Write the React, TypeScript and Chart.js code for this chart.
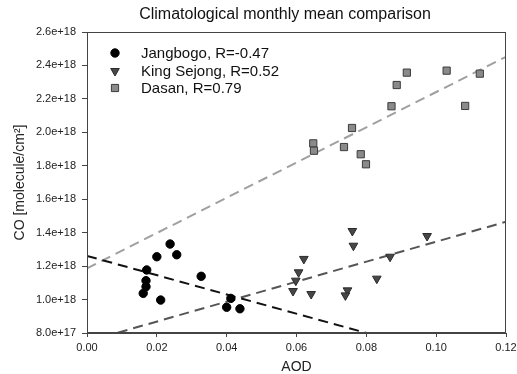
import React, { useEffect, useRef } from 'react';
import { Chart, registerables } from 'chart.js';

Chart.register(...registerables);

const FONT = '"Liberation Sans", Arial, Helvetica, sans-serif';

const titleText = 'Climatological monthly mean comparison';
const xTitle = 'AOD';
const yTitle = 'CO [molecule/cm\u00B2]';

const seriesNames = ['Jangbogo, R=-0.47', 'King Sejong, R=0.52', 'Dasan, R=0.79'];

const jangbogoAOD = [0.0161, 0.0169, 0.0169, 0.0171, 0.0200, 0.0238, 0.0257, 0.0211, 0.0327, 0.0412, 0.0400, 0.0438];
const jangbogoCO = [1.037e18, 1.077e18, 1.113e18, 1.177e18, 1.256e18, 1.332e18, 1.268e18, 0.997e18, 1.139e18, 1.007e18, 0.954e18, 0.945e18];

const kingSejongAOD = [0.0760, 0.0763, 0.0974, 0.0621, 0.0606, 0.0598, 0.0590, 0.0642, 0.0746, 0.0740, 0.0830, 0.0868];
const kingSejongCO = [1.410e18, 1.322e18, 1.380e18, 1.243e18, 1.163e18, 1.113e18, 1.051e18, 1.033e18, 1.055e18, 1.025e18, 1.125e18, 1.256e18];

const dasanAOD = [0.0916, 0.1030, 0.1125, 0.0887, 0.0872, 0.1083, 0.0759, 0.0648, 0.0650, 0.0736, 0.0784, 0.0799];
const dasanCO = [2.357e18, 2.369e18, 2.351e18, 2.283e18, 2.156e18, 2.158e18, 2.026e18, 1.934e18, 1.890e18, 1.912e18, 1.869e18, 1.809e18];

// linear fit lines: CO = intercept + slope * AOD
const fitSlope = [-5.76e18, 5.97e18, 10.54e18];
const fitIntercept = [1.261e18, 0.749e18, 1.187e18];
const fitRange = [0, 0.12];

const xTicks = [0, 0.02, 0.04, 0.06, 0.08, 0.1, 0.12];
const yTicks = [8e17, 1.0e18, 1.2e18, 1.4e18, 1.6e18, 1.8e18, 2.0e18, 2.2e18, 2.4e18, 2.6e18];

const markerFill = ['#000000', '#474747', '#8a8a8a'];
const markerBorder = ['#000000', '#2a2a2a', '#3c3c3c'];
const fitColor = ['#111111', '#555555', '#a0a0a0'];

const toPoints = (xs: number[], ys: number[]) => xs.map((x, i) => ({ x, y: ys[i] }));

const fitPoints = (i: number) =>
  fitRange.map((x) => ({ x, y: fitIntercept[i] + fitSlope[i] * x }));

const framePlugin = {
  id: 'frameAndLegend',
  afterDraw(chart: any) {
    const { ctx, chartArea } = chart;
    const { left, top, right, bottom } = chartArea;
    ctx.save();
    ctx.strokeStyle = '#444444';
    ctx.lineWidth = 1;
    ctx.strokeRect(Math.round(left) + 0.5, Math.round(top) + 0.5, Math.round(right - left) - 1, Math.round(bottom - top) - 1);

    // title
    ctx.fillStyle = '#111111';
    ctx.font = `16px ${FONT}`;
    ctx.textAlign = 'center';
    ctx.textBaseline = 'middle';
    ctx.fillText(titleText, 285, 15);

    // legend
    const sx = left + 28;
    const tx = left + 54;
    const rows = [top + 21, top + 39, top + 56];
    ctx.font = `15px ${FONT}`;
    ctx.textAlign = 'left';
    ctx.textBaseline = 'middle';
    seriesNames.forEach((name, i) => {
      const y = rows[i];
      ctx.fillStyle = markerFill[i];
      ctx.strokeStyle = markerBorder[i];
      ctx.lineWidth = 1;
      ctx.beginPath();
      if (i === 0) {
        ctx.arc(sx, y, 4.2, 0, Math.PI * 2);
      } else if (i === 1) {
        ctx.moveTo(sx - 4.3, y - 2.5);
        ctx.lineTo(sx + 4.3, y - 2.5);
        ctx.lineTo(sx, y + 5);
        ctx.closePath();
      } else {
        ctx.rect(sx - 3.6, y - 3.6, 7.2, 7.2);
      }
      ctx.fill();
      ctx.stroke();
      ctx.fillStyle = '#111111';
      ctx.fillText(name, tx, y + 1);
    });
    ctx.restore();
  },
};

export default function App() {
  const canvasRef = useRef<HTMLCanvasElement | null>(null);

  useEffect(() => {
    if (!canvasRef.current) return;
    const scatterStyles = [
      { pointStyle: 'circle', pointRadius: 4.2, pointRotation: 0 },
      { pointStyle: 'triangle', pointRadius: 5, pointRotation: 180 },
      { pointStyle: 'rect', pointRadius: 5.1, pointRotation: 0 },
    ];
    const series = [
      toPoints(jangbogoAOD, jangbogoCO),
      toPoints(kingSejongAOD, kingSejongCO),
      toPoints(dasanAOD, dasanCO),
    ];
    const datasets: any[] = [];
    series.forEach((data, i) => {
      datasets.push({
        label: seriesNames[i],
        data,
        showLine: false,
        backgroundColor: markerFill[i],
        borderColor: markerBorder[i],
        borderWidth: 1,
        ...scatterStyles[i],
        order: 1,
        clip: 6,
      });
    });
    [0, 1, 2].forEach((i) => {
      datasets.push({
        label: seriesNames[i] + ' fit',
        data: fitPoints(i),
        showLine: true,
        pointRadius: 0,
        borderColor: fitColor[i],
        borderWidth: 2,
        borderDash: [10, 6],
        fill: false,
        order: 2,
        clip: 0,
      });
    });

    const tickColor = '#222222';
    const chart = new Chart(canvasRef.current, {
      type: 'scatter',
      data: { datasets },
      options: {
        responsive: false,
        animation: false,
        events: [],
        layout: { padding: { top: 32, right: 11, left: 0, bottom: 0 } },
        plugins: {
          legend: { display: false },
          tooltip: { enabled: false },
          title: { display: false },
        },
        scales: {
          x: {
            type: 'linear',
            min: 0,
            max: 0.12,
            afterBuildTicks: (s: any) => {
              s.ticks = xTicks.map((v) => ({ value: v }));
            },
            afterFit: (s: any) => {
              s.height = 41;
              s.paddingLeft = 0;
              s.paddingRight = 0;
            },
            ticks: {
              callback: (v: any) => Number(v).toFixed(2),
              font: { size: 11, family: FONT },
              color: tickColor,
              padding: 4,
              maxRotation: 0,
              autoSkip: false,
            },
            grid: { drawOnChartArea: false, drawTicks: true, tickLength: 4, color: '#444444' },
            border: { display: true, color: '#444444' },
            title: {
              display: true,
              text: xTitle,
              font: { size: 14, family: FONT, lineHeight: 1 },
              color: tickColor,
              padding: { top: 0, bottom: 0 },
            },
          },
          y: {
            type: 'linear',
            min: 8e17,
            max: 2.6e18,
            afterBuildTicks: (s: any) => {
              s.ticks = yTicks.map((v) => ({ value: v }));
            },
            afterFit: (s: any) => {
              s.width = 87;
            },
            ticks: {
              callback: (v: any) => Number(v).toExponential(1),
              font: { size: 11, family: FONT },
              color: tickColor,
              padding: 6,
              autoSkip: false,
            },
            grid: { drawOnChartArea: false, drawTicks: true, tickLength: 5, color: '#444444' },
            border: { display: true, color: '#444444' },
            title: {
              display: true,
              text: yTitle,
              font: { size: 14, family: FONT, lineHeight: 1 },
              color: tickColor,
              padding: { top: 13, bottom: 0 },
            },
          },
        },
      } as any,
      plugins: [framePlugin],
    });
    return () => chart.destroy();
  }, []);

  return (
    <div style={{ position: 'fixed', left: 0, top: 0, width: 517, height: 374, background: '#ffffff' }}>
      <canvas ref={canvasRef} width={517} height={374} style={{ width: 517, height: 374, display: 'block' }} />
    </div>
  );
}
